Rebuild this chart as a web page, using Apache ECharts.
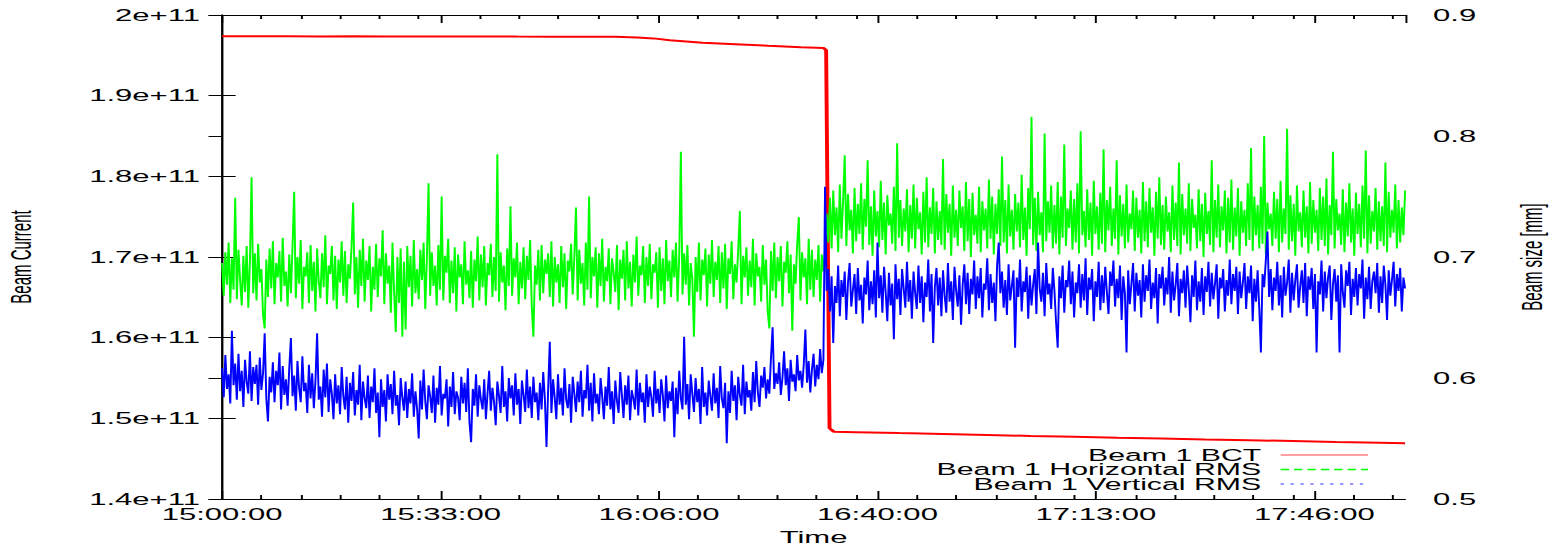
<!DOCTYPE html>
<html>
<head>
<meta charset="utf-8">
<title>Beam 1 BCT and RMS beam size</title>
<script src="https://cdn.jsdelivr.net/npm/echarts@6/dist/echarts.min.js"></script>
<style>
    html, body { margin: 0; padding: 0; background: #fff; overflow: hidden; }
    /* the original plot is 800px wide, stretched to fill 1553px */
    #main { width: 800px; height: 547px; transform: scaleX(1.94125); transform-origin: 0 0; }
</style>
</head>
<body>
<div id="main"></div>
<script>
    // time axis: seconds after 15:00:00
    var xTickLabels = ['15:00:00', '15:33:00', '16:06:00', '16:40:00', '17:13:00', '17:46:00'];
    var yLeftLabels = ['1.4e+11', '1.5e+11', '1.6e+11', '1.7e+11', '1.8e+11', '1.9e+11', '2e+11'];
    var yRightLabels = ['0.5', '0.6', '0.7', '0.8', '0.9'];

    // Beam 1 BCT, units of 1e11 charges
    var bctTime = [0, 300, 600, 900, 1200, 1500, 1800, 2100, 2400, 2700, 3000, 3300, 3600, 3800, 3950,
        4100, 4250, 4400, 4700, 5000, 5300, 5510, 5530, 5561, 5600, 5800, 6200, 6600, 7000, 7400,
        7800, 8200, 8600, 9000, 9400, 9800, 10200, 10600, 10830];
    var bctValue = [1.9738, 1.9736, 1.9737, 1.9735, 1.9736, 1.9734, 1.9735, 1.9733, 1.9734, 1.9732, 1.9731, 1.9730, 1.9729, 1.9722, 1.9710,
        1.9688, 1.9672, 1.9656, 1.9638, 1.9618, 1.9600, 1.9590, 1.9560, 1.4877, 1.4835, 1.4829, 1.4817, 1.4806, 1.4794, 1.4782,
        1.4772, 1.4760, 1.4750, 1.4739, 1.4729, 1.4718, 1.4707, 1.4697, 1.4690];

    // RMS beam sizes, one sample every 15 s, in micrometres
    var rmsStep = 15;
    var hRms = [
        695, 668, 704, 677, 712, 662, 699, 673, 749, 665, 706, 681, 660, 701, 671, 709, 658, 697, 766, 670,
        703, 664, 711, 679, 690, 652, 641, 698, 667, 707, 674, 713, 661, 695, 683, 705, 663, 716, 676, 688,
        659, 702, 670, 709, 754, 666, 700, 678, 714, 657, 692, 684, 704, 662, 710, 672, 696, 655, 707, 680,
        666, 703, 675, 718, 661, 693, 686, 709, 664, 701, 657, 698, 679, 713, 668, 705, 662, 694, 682, 708,
        745, 669, 700, 658, 706, 676, 715, 663, 697, 681, 709, 655, 692, 673, 711, 667, 699, 684, 722, 661,
        703, 678, 693, 654, 712, 671, 638, 700, 662, 707, 634, 696, 640, 709, 675, 701, 659, 714, 670, 690,
        665, 706, 681, 712, 657, 699, 761, 668, 704, 676, 693, 660, 710, 673, 750, 664, 701, 687, 715, 662,
        697, 670, 708, 655, 702, 683, 694, 661, 713, 677, 689, 666, 705, 658, 698, 680, 717, 664, 702, 675,
        709, 660, 695, 685, 711, 667, 700, 672, 785, 663, 704, 679, 693, 656, 707, 676, 742, 668, 699, 683,
        712, 661, 696, 674, 708, 665, 701, 681, 714, 659, 634, 693, 677, 706, 664, 710, 670, 698, 686, 703,
        667, 713, 659, 700, 679, 694, 662, 709, 675, 703, 657, 697, 688, 711, 669, 701, 741, 664, 706, 678,
        695, 660, 712, 673, 750, 666, 700, 684, 708, 658, 703, 676, 715, 663, 692, 680, 707, 661, 699, 687,
        671, 710, 656, 698, 682, 706, 664, 713, 674, 696, 659, 702, 679, 717, 668, 693, 685, 709, 662, 700,
        676, 711, 665, 694, 687, 704, 658, 708, 672, 699, 661, 714, 680, 697, 667, 706, 683, 712, 663, 701,
        787, 669, 703, 677, 710, 660, 695, 682, 634, 700, 671, 712, 664, 698, 685, 707, 659, 702, 678, 714,
        667, 696, 681, 709, 662, 704, 674, 711, 657, 699, 686, 713, 665, 694, 679, 706, 738, 661, 701, 683,
        708, 668, 697, 675, 715, 660, 703, 684, 692, 663, 710, 677, 698, 655, 641, 705, 672, 712, 666, 700,
        680, 709, 659, 696, 687, 713, 670, 702, 639, 694, 678, 711, 733, 664, 704, 683, 699, 661, 715, 673,
        706, 667, 698, 681, 710, 663, 702, 688, 705,
        736, 712, 749, 707, 755, 718, 741, 704, 760, 715, 746,
        784, 709, 752, 722, 739, 703, 757, 713, 744, 719, 761, 706, 748, 725, 780, 710, 742, 701, 755, 717,
        738, 708, 763, 714, 745, 702, 751, 726, 736, 711, 758, 705, 794, 716, 747, 709, 740, 721, 756, 704,
        743, 715, 760, 707, 749, 723, 737, 702, 754, 712, 766, 708, 741, 719, 757, 703, 746, 714, 738, 710,
        781, 706, 752, 720, 744, 701, 759, 716, 739, 709, 755, 724, 742, 705, 762, 713, 748, 700, 753, 718,
        735, 711, 758, 704, 746, 722, 740, 707, 764, 715, 750, 702, 744, 719, 756, 709, 783, 712, 747, 703,
        760, 717, 739, 706, 752, 721, 745, 708, 768, 714, 741, 701, 757, 723, 816, 710, 749, 705, 754, 718,
        737, 704, 802, 713, 746, 720, 759, 707, 743, 711, 762, 702, 750, 716, 793, 709, 740, 724, 755, 706,
        748, 712, 761, 703, 804, 718, 738, 708, 756, 714, 745, 701, 763, 719, 742, 706, 753, 711, 789, 704,
        747, 722, 758, 709, 740, 715, 780, 702, 751, 717, 744, 707, 760, 712, 736, 723, 755, 705, 749, 716,
        739, 703, 762, 713, 746, 708, 757, 720, 741, 701, 754, 715, 766, 710, 743, 706, 750, 721, 737, 704,
        759, 714, 745, 709, 778, 702, 752, 718, 740, 711, 761, 705, 748, 724, 735, 707, 756, 713, 744, 700,
        753, 719, 738, 710, 780, 704, 747, 716, 760, 708, 742, 722, 755, 703, 749, 712, 764, 706, 741, 717,
        757, 701, 746, 720, 739, 709, 761, 714, 790, 705, 750, 718, 743, 707, 758, 711, 800, 702, 745, 723,
        736, 709, 754, 715, 748, 704, 763, 712, 740, 719, 806, 706, 751, 713, 744, 701, 759, 721, 737, 708,
        755, 716, 742, 703, 762, 711, 747, 720, 739, 705, 757, 714, 750, 709, 765, 702, 743, 718, 787, 707,
        748, 722, 736, 710, 756, 704, 745, 717, 761, 712, 740, 701, 753, 719, 744, 708, 759, 715, 788, 703,
        751, 711, 738, 721, 757, 706, 746, 713, 742, 709, 778, 704, 754, 716, 739, 720, 760, 707, 747, 712,
        741, 718, 755
    ];
    var vRms = [
        608, 584, 619, 591, 603, 579, 639, 594, 612, 582, 620, 589, 606, 576, 615, 597, 587, 622, 581, 609,
        595, 611, 578, 617, 590, 604, 637, 583, 564, 601, 588, 613, 580, 606, 594, 621, 574, 610, 586, 599,
        577, 608, 633, 585, 602, 573, 614, 592, 580, 618, 589, 596, 571, 611, 583, 604, 575, 598, 637, 582,
        593, 568, 607, 584, 612, 572, 599, 587, 566, 603, 579, 594, 570, 609, 585, 574, 601, 563, 596, 581,
        605, 569, 590, 578, 611, 565, 597, 583, 575, 602, 567, 593, 580, 608, 571, 588, 551, 599, 576, 590,
        564, 603, 582, 595, 570, 606, 577, 586, 561, 600, 584, 573, 597, 567, 591, 579, 604, 568, 589, 575,
        550, 598, 574, 607, 581, 566, 594, 585, 571, 602, 563, 592, 578, 610, 569, 587, 583, 599, 560, 593,
        576, 605, 570, 589, 584, 565, 601, 579, 596, 572, 608, 563, 547, 591, 577, 603, 568, 594, 582, 574,
        599, 566, 587, 606, 573, 592, 580, 561, 597, 585, 571, 610, 576, 589, 564, 600, 583, 594, 569, 604,
        578, 591, 562, 598, 586, 572, 607, 575, 593, 567, 601, 580, 588, 565, 596, 574, 605, 583, 543, 590,
        630, 571, 599, 584, 566, 603, 578, 592, 569, 608, 582, 575, 595, 563, 601, 587, 572, 597, 580, 606,
        568, 590, 583, 611, 573, 596, 564, 604, 579, 587, 570, 600, 585, 566, 593, 577, 609, 574, 589, 562,
        598, 581, 571, 605, 586, 567, 594, 578, 602, 565, 590, 583, 574, 607, 569, 596, 580, 588, 563, 603,
        576, 593, 584, 568, 606, 579, 591, 571, 599, 586, 564, 602, 575, 589, 581, 597, 551, 592, 570, 606,
        583, 574, 634, 578, 595, 566, 603, 587, 572, 600, 580, 591, 562, 609, 576, 588, 569, 598, 585, 573,
        604, 579, 592, 567, 610, 583, 575, 596, 546, 589, 571, 606, 581, 594, 565, 601, 586, 577, 611, 570,
        597, 584, 590, 573, 605, 580, 614, 588, 576, 602, 592, 609, 583, 599, 587, 617, 642, 591, 604, 595,
        613, 586, 600, 622, 594, 608, 581, 615, 597, 603, 589, 619, 598, 606, 592, 611, 640, 596, 614, 588,
        607, 620, 593, 611, 599, 624, 604, 615, 758,
        672, 690, 655, 684, 629, 676, 662, 693, 651, 681, 667,
        688, 648, 679, 695, 659, 673, 686, 653, 691, 664, 677, 645, 683, 669, 697, 656, 680, 661, 689, 650,
        712, 666, 685, 654, 692, 671, 647, 687, 660, 678, 632, 694, 665, 682, 652, 690, 674, 658, 696, 663,
        681, 649, 688, 670, 657, 693, 662, 684, 646, 679, 667, 698, 655, 686, 629, 675, 691, 660, 683, 651,
        689, 668, 654, 695, 663, 680, 648, 692, 672, 659, 685, 644, 677, 694, 661, 687, 653, 682, 669, 697,
        657, 684, 666, 691, 650, 678, 673, 699, 656, 686, 662, 679, 647, 693, 712, 670, 688, 658, 681, 652,
        694, 664, 676, 689, 625, 683, 667, 698, 655, 680, 671, 692, 649, 685, 660, 677, 690, 653, 712, 674,
        663, 687, 651, 695, 669, 678, 657, 691, 672, 646, 625, 684, 666, 693, 654, 681, 675, 697, 661, 688,
        650, 679, 670, 694, 658, 686, 664, 699, 652, 683, 673, 690, 647, 680, 667, 696, 656, 685, 662, 692,
        671, 653, 688, 676, 697, 659, 682, 666, 693, 648, 684, 670, 621, 689, 661, 678, 695, 655, 687, 668,
        681, 650, 694, 663, 685, 672, 698, 657, 679, 666, 691, 645, 686, 674, 692, 660, 683, 669, 700, 654,
        688, 664, 677, 695, 651, 682, 670, 689, 658, 693, 673, 646, 685, 667, 697, 656, 680, 663, 691, 652,
        684, 671, 696, 659, 687, 665, 678, 694, 649, 683, 674, 690, 655, 681, 668, 698, 661, 686, 672, 692,
        653, 688, 666, 679, 695, 657, 684, 670, 693, 647, 682, 663, 689, 658, 621, 686, 675, 697, 721, 667,
        690, 656, 683, 672, 696, 660, 685, 650, 692, 668, 679, 698, 654, 687, 664, 681, 694, 658, 676, 689,
        662, 695, 651, 684, 673, 691, 657, 686, 621, 680, 669, 697, 655, 688, 666, 683, 693, 648, 678, 690,
        663, 685, 621, 694, 671, 658, 689, 676, 696, 652, 682, 667, 691, 660, 686, 674, 698, 649, 683, 665,
        692, 657, 680, 688, 670, 695, 654, 684, 662, 693, 677, 648, 689, 668, 681, 696, 659, 686, 672, 691,
        655, 683, 674
    ];

    var xMax = 10830;
    var xStep = 2000;
    var xMinorStep = 360;   // minor tics every 6 minutes from each major tic

    var font = 'Liberation Sans';
    var tickTxt = { fontFamily: font, fontSize: 16, color: '#000' };
    var nameTxt = { fontFamily: font, fontSize: 15, color: '#000' };

    var bctData = bctTime.map(function (t, i) { return [t, bctValue[i] * 1e11]; });
    var hData = hRms.map(function (v, i) { return [i * rmsStep, v / 1000]; });
    var vData = vRms.map(function (v, i) { return [i * rmsStep, v / 1000]; });

    var minorTicks = [];
    for (var m = 0; m < xMax; m += xStep) {
        for (var k = 1; k <= 5; k++) {
            if (m + k * xMinorStep < xMax) minorTicks.push(m + k * xMinorStep);
        }
    }

    function pick(labels, min, step) {
        return function (v) {
            var i = Math.round((v - min) / step);
            if (Math.abs(v - (min + i * step)) > step * 1e-6) return '';
            return labels[i] || '';
        };
    }

    var blackLine = { lineStyle: { color: '#000', width: 1 } };
    var noSymbol = { color: 'rgba(0,0,0,0)', borderWidth: 0, opacity: 0 };

    var option = {
        animation: false,
        grid: { left: 114.4, right: 76.2, top: 15, bottom: 48, containLabel: false, outerBoundsMode: 'none' },
        legend: {
            orient: 'vertical',
            right: 94.6,
            top: 447,
            align: 'right',
            padding: 0,
            itemGap: -1.5,
            itemWidth: 45,
            itemHeight: 14,
            textStyle: { fontFamily: font, fontSize: 15.6, color: '#000', padding: [0, 5, 0, 0] },
            data: [
                { name: 'Beam 1 BCT', itemStyle: noSymbol, lineStyle: { type: 'solid', width: 1, color: '#ff4040' } },
                { name: 'Beam 1 Horizontal RMS', itemStyle: noSymbol, lineStyle: { type: [4.3, 2.6], width: 1.4, color: '#00ff00' } },
                { name: 'Beam 1 Vertical RMS', itemStyle: noSymbol, lineStyle: { type: [1.7, 3.4], width: 1, color: '#3030ff' } }
            ]
        },
        xAxis: [
            {
                type: 'value', min: 0, max: xMax, interval: xStep,
                axisLine: blackLine,
                axisTick: { inside: true, length: 8, lineStyle: { color: '#000' } },
                axisLabel: Object.assign({ margin: 7, showMaxLabel: false, formatter: pick(xTickLabels, 0, xStep) }, tickTxt),
                splitLine: { show: false },
                name: 'Time', nameLocation: 'middle', nameGap: 30,
                nameTextStyle: { fontFamily: font, fontSize: 16, color: '#000' }
            },
            {
                type: 'value', min: 0, max: xMax, position: 'bottom',
                axisLine: { show: false },
                axisTick: { inside: true, length: 4, customValues: minorTicks, lineStyle: { color: '#000' } },
                axisLabel: { show: false },
                splitLine: { show: false }
            },
            {
                type: 'value', min: 0, max: xMax, interval: xStep, position: 'top',
                axisLine: blackLine,
                axisTick: { inside: true, length: 8, lineStyle: { color: '#000' } },
                axisLabel: { show: false },
                splitLine: { show: false }
            },
            {
                type: 'value', min: 0, max: xMax, position: 'top',
                axisLine: { show: false },
                axisTick: { inside: true, length: 4, customValues: minorTicks, lineStyle: { color: '#000' } },
                axisLabel: { show: false },
                splitLine: { show: false }
            }
        ],
        yAxis: [
            {
                type: 'value', min: 1.4e11, max: 2e11, interval: 1e10, position: 'left',
                axisLine: blackLine,
                axisTick: { inside: true, length: 7, lineStyle: { color: '#000' } },
                axisLabel: Object.assign({ margin: 11.4, formatter: pick(yLeftLabels, 1.4e11, 1e10) }, tickTxt),
                splitLine: { show: false },
                name: 'Beam Current', nameLocation: 'middle', nameRotate: 90, nameGap: 96, nameTextStyle: nameTxt
            },
            {
                type: 'value', min: 0.5, max: 0.9, interval: 0.1, position: 'right',
                axisLine: blackLine,
                axisTick: { inside: true, length: 7, lineStyle: { color: '#000' } },
                axisLabel: Object.assign({ margin: 14.4, formatter: pick(yRightLabels, 0.5, 0.1) }, tickTxt),
                splitLine: { show: false },
                name: 'Beam size [mm]', nameLocation: 'middle', nameRotate: 90, nameGap: 58, nameTextStyle: nameTxt
            },
            {
                // left-axis tics mirrored on the right border
                type: 'value', min: 1.4e11, max: 2e11, interval: 1e10, position: 'right',
                axisLine: { show: false },
                axisTick: { inside: true, length: 7, lineStyle: { color: '#000' } },
                axisLabel: { show: false },
                splitLine: { show: false }
            }
        ],
        series: [
            {
                name: 'Beam 1 BCT', type: 'line', xAxisIndex: 0, yAxisIndex: 0,
                data: bctData, symbol: 'none', color: '#ff0000',
                lineStyle: { width: 2, color: '#ff0000' }
            },
            {
                name: 'Beam 1 Horizontal RMS', type: 'line', xAxisIndex: 0, yAxisIndex: 1,
                data: hData, symbol: 'none', color: '#00ff00',
                lineStyle: { width: 1, color: '#00ff00' }
            },
            {
                name: 'Beam 1 Vertical RMS', type: 'line', xAxisIndex: 0, yAxisIndex: 1,
                data: vData, symbol: 'none', color: '#0000ff',
                lineStyle: { width: 1, color: '#0000ff' }
            }
        ]
    };

    var chartDom = document.getElementById('main');
    var myChart = echarts.init(chartDom, null, { renderer: 'svg' });
    myChart.setOption(option);
</script>
</body>
</html>
